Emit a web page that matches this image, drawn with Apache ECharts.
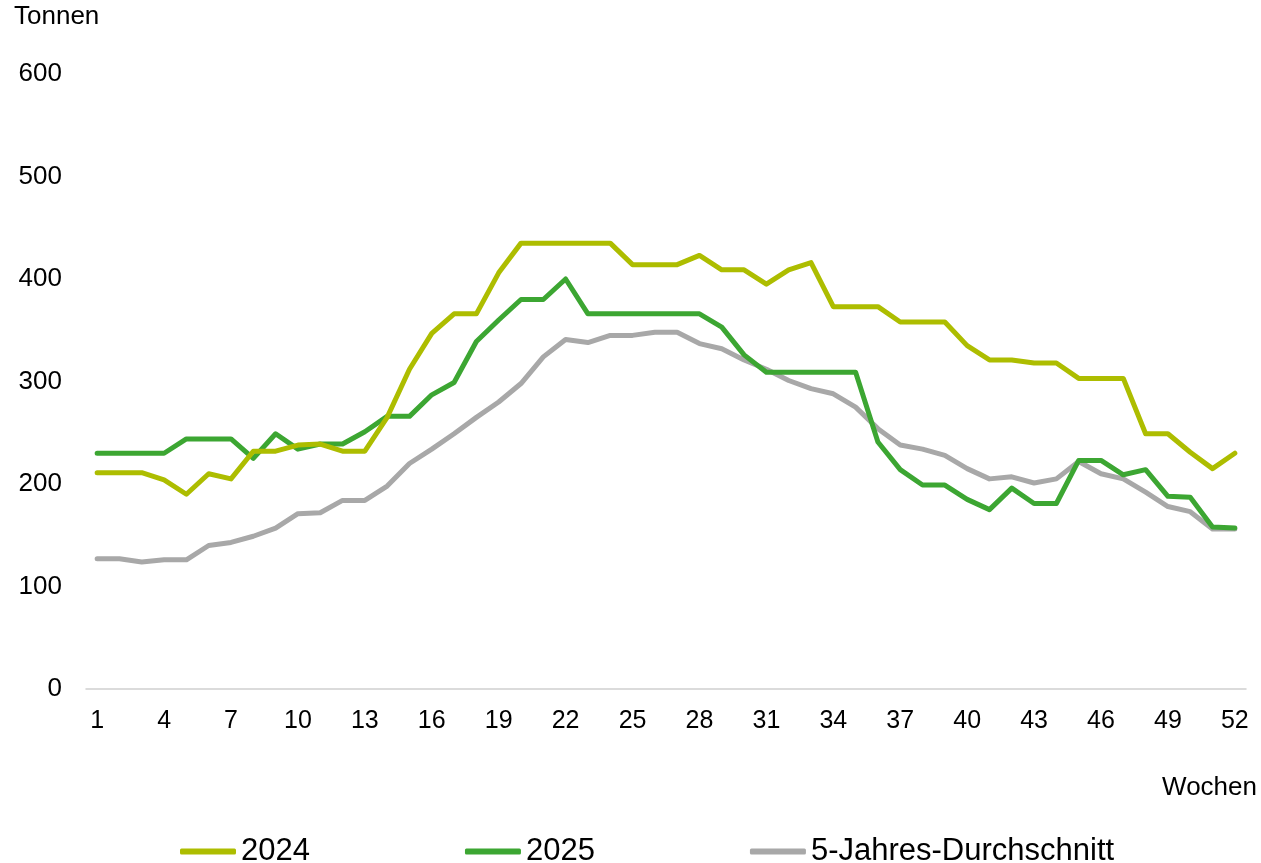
<!DOCTYPE html>
<html>
<head>
<meta charset="utf-8">
<script src="https://cdn.jsdelivr.net/npm/echarts@6/dist/echarts.min.js"></script>
<style>
  html, body { margin: 0; padding: 0; background: #fff; }
  #chart { width: 1261px; height: 863px; }
</style>
</head>
<body>
<div id="chart"></div>
<script>
// Wochen 1..52
const weeks = [];
for (let w = 1; w <= 52; w++) weeks.push(String(w));

// Werte in Tonnen
const values2024 = [
  211, 211, 211, 204, 190, 210, 205, 232, 232, 238, 239, 232, 232,
  265, 312, 347, 366, 366, 406, 435, 435, 435, 435, 435, 414, 414,
  414, 423, 409, 409, 395, 409, 416, 373, 373, 373, 358, 358, 358,
  335, 321, 321, 318, 318, 303, 303, 303, 249, 249, 231, 215, 230
];
const values2025 = [
  230, 230, 230, 230, 244, 244, 244, 225, 249, 234, 239, 239, 251,
  266, 266, 287, 299, 339, 360, 380, 380, 400, 366, 366, 366, 366,
  366, 366, 353, 326, 309, 309, 309, 309, 309, 241, 214, 199, 199,
  185, 175, 196, 181, 181, 223, 223, 209, 214, 188, 187, 158, 157
];
const valuesAvg = [
  127, 127, 124, 126, 126, 140, 143, 149, 157, 171, 172, 184, 184,
  198, 220, 234, 249, 265, 280, 298, 324, 341, 338, 345, 345, 348,
  348, 337, 332, 321, 312, 301, 293, 288, 275, 254, 238, 234, 228,
  215, 205, 207, 201, 205, 222, 210, 205, 192, 178, 173, 156, 156
];

const seriesNames = ['2024', '2025', '5-Jahres-Durchschnitt'];
const seriesColors = ['#adbd00', '#3ca632', '#a8a8a8'];
const seriesValues = [values2024, values2025, valuesAvg];

const font = '"Liberation Sans", Arial, sans-serif';

const chart = echarts.init(document.getElementById('chart'));

const option = {
  backgroundColor: '#fff',
  animation: false,
  grid: { left: 86, right: 15, top: 74, bottom: 174 },
  legend: {
    left: 180,
    top: 836,
    padding: 0,
    itemGap: 155,
    itemWidth: 56,
    itemHeight: 6,
    icon: 'roundRect',
    textStyle: { fontFamily: font, fontSize: 31, color: '#000' },
    data: seriesNames
  },
  xAxis: {
    type: 'category',
    data: weeks,
    boundaryGap: true,
    axisLine: { lineStyle: { color: '#d0d0d0', width: 1.5 } },
    axisTick: { interval: 2, length: 7, lineStyle: { color: '#d0d0d0', width: 1.5 } },
    axisLabel: { interval: 2, margin: 20, fontFamily: font, fontSize: 25, color: '#000' }
  },
  yAxis: {
    type: 'value',
    min: 0,
    max: 600,
    interval: 100,
    axisLine: { show: false },
    axisTick: { show: false },
    splitLine: { show: false },
    axisLabel: { margin: 24, fontFamily: font, fontSize: 26, color: '#000' }
  },
  graphic: [
    { type: 'text', left: 14, top: 4, style: { text: 'Tonnen', font: '26px ' + font, fill: '#000' } },
    { type: 'text', right: 4, top: 775, style: { text: 'Wochen', font: '26px ' + font, fill: '#000' } }
  ],
  series: seriesNames.map((name, i) => ({
    name,
    type: 'line',
    data: seriesValues[i],
    symbol: 'none',
    color: seriesColors[i],
    lineStyle: { width: 5, color: seriesColors[i], cap: 'round', join: 'round' },
    z: 3 - i
  }))
};

chart.setOption(option);
</script>
</body>
</html>
